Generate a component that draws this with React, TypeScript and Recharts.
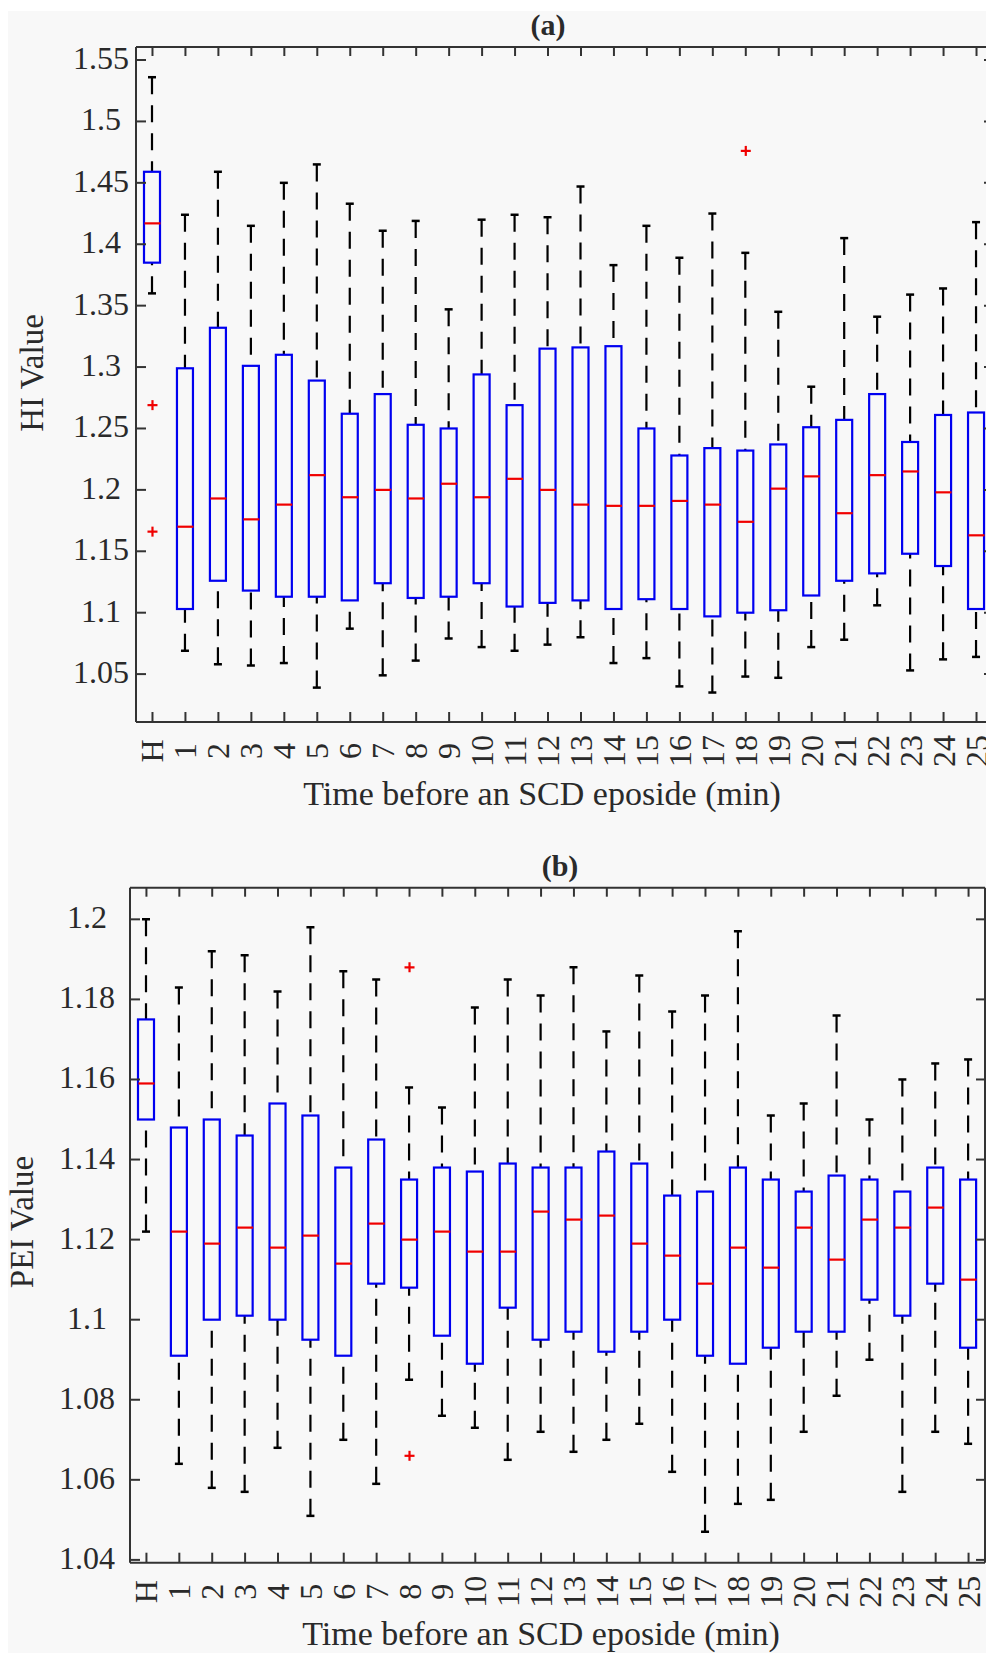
import { Bar, ComposedChart, Scatter, XAxis, YAxis } from "recharts"

const categories = ["H", "1", "2", "3", "4", "5", "6", "7", "8", "9", "10", "11", "12", "13", "14", "15", "16", "17", "18", "19", "20", "21", "22", "23", "24", "25"]

// (a) HI values
const hiLow = [1.36, 1.069, 1.058, 1.057, 1.059, 1.039, 1.087, 1.049, 1.061, 1.079, 1.072, 1.069, 1.074, 1.08, 1.059, 1.063, 1.04, 1.035, 1.048, 1.047, 1.072, 1.078, 1.106, 1.053, 1.062, 1.064]
const hiQ1 = [1.385, 1.103, 1.126, 1.118, 1.113, 1.113, 1.11, 1.124, 1.112, 1.113, 1.124, 1.105, 1.108, 1.11, 1.103, 1.111, 1.103, 1.097, 1.1, 1.102, 1.114, 1.126, 1.132, 1.148, 1.138, 1.103]
const hiMed = [1.417, 1.17, 1.193, 1.176, 1.188, 1.212, 1.194, 1.2, 1.193, 1.205, 1.194, 1.209, 1.2, 1.188, 1.187, 1.187, 1.191, 1.188, 1.174, 1.201, 1.211, 1.181, 1.212, 1.215, 1.198, 1.163]
const hiQ3 = [1.459, 1.299, 1.332, 1.301, 1.31, 1.289, 1.262, 1.278, 1.253, 1.25, 1.294, 1.269, 1.315, 1.316, 1.317, 1.25, 1.228, 1.234, 1.232, 1.237, 1.251, 1.257, 1.278, 1.239, 1.261, 1.263]
const hiHigh = [1.536, 1.424, 1.459, 1.415, 1.45, 1.465, 1.433, 1.411, 1.419, 1.347, 1.42, 1.424, 1.422, 1.447, 1.383, 1.415, 1.389, 1.425, 1.393, 1.345, 1.284, 1.405, 1.341, 1.359, 1.364, 1.418]
const hiOutliers = [
    { idx: 0, v: 1.269 },
    { idx: 0, v: 1.166 },
    { idx: 18, v: 1.476 },
]
const hiTicks = [1.05, 1.1, 1.15, 1.2, 1.25, 1.3, 1.35, 1.4, 1.45, 1.5, 1.55]

// (b) PEI values
const peiLow = [1.122, 1.064, 1.058, 1.057, 1.068, 1.051, 1.07, 1.059, 1.085, 1.076, 1.073, 1.065, 1.072, 1.067, 1.07, 1.074, 1.062, 1.047, 1.054, 1.055, 1.072, 1.081, 1.09, 1.057, 1.072, 1.069]
const peiQ1 = [1.15, 1.091, 1.1, 1.101, 1.1, 1.095, 1.091, 1.109, 1.108, 1.096, 1.089, 1.103, 1.095, 1.097, 1.092, 1.097, 1.1, 1.091, 1.089, 1.093, 1.097, 1.097, 1.105, 1.101, 1.109, 1.093]
const peiMed = [1.159, 1.122, 1.119, 1.123, 1.118, 1.121, 1.114, 1.124, 1.12, 1.122, 1.117, 1.117, 1.127, 1.125, 1.126, 1.119, 1.116, 1.109, 1.118, 1.113, 1.123, 1.115, 1.125, 1.123, 1.128, 1.11]
const peiQ3 = [1.175, 1.148, 1.15, 1.146, 1.154, 1.151, 1.138, 1.145, 1.135, 1.138, 1.137, 1.139, 1.138, 1.138, 1.142, 1.139, 1.131, 1.132, 1.138, 1.135, 1.132, 1.136, 1.135, 1.132, 1.138, 1.135]
const peiHigh = [1.2, 1.183, 1.192, 1.191, 1.182, 1.198, 1.187, 1.185, 1.158, 1.153, 1.178, 1.185, 1.181, 1.188, 1.172, 1.186, 1.177, 1.181, 1.197, 1.151, 1.154, 1.176, 1.15, 1.16, 1.164, 1.165]
const peiOutliers = [
    { idx: 8, v: 1.188 },
    { idx: 8, v: 1.066 },
]
const peiTicks = [1.04, 1.06, 1.08, 1.1, 1.12, 1.14, 1.16, 1.18, 1.2]

const xTicks = categories.map((_, i) => i)

const AXIS = "#333"
const TXT = "#2a2a2a"
const FONT = '"Liberation Serif", "Times New Roman", serif'

function buildRows(lo: number[], q1: number[], med: number[], q3: number[], hi: number[]) {
    return categories.map((c, i) => ({
        idx: i,
        label: c,
        upper: [q3[i], hi[i]],
        lower: [lo[i], q1[i]],
        box: [q1[i], q3[i]],
        med: med[i],
    }))
}

const hiRows = buildRows(hiLow, hiQ1, hiMed, hiQ3, hiHigh)
const peiRows = buildRows(peiLow, peiQ1, peiMed, peiQ3, peiHigh)

const fmt = (v: number) => String(Number(v.toFixed(2)))

function UpperWhisker(props: any) {
    const { x, y, width, height } = props
    const cx = x + width / 2
    const top = Math.min(y, y + height)
    const bot = Math.max(y, y + height)
    return (
        <g>
            <line x1={cx} x2={cx} y1={top} y2={bot} stroke="#000" strokeWidth={2.2} strokeDasharray="17 11" />
            <line x1={cx - 4} x2={cx + 4} y1={top} y2={top} stroke="#000" strokeWidth={2.5} />
        </g>
    )
}

function LowerWhisker(props: any) {
    const { x, y, width, height } = props
    const cx = x + width / 2
    const top = Math.min(y, y + height)
    const bot = Math.max(y, y + height)
    return (
        <g>
            <line x1={cx} x2={cx} y1={bot} y2={top} stroke="#000" strokeWidth={2.2} strokeDasharray="17 11" />
            <line x1={cx - 4} x2={cx + 4} y1={bot} y2={bot} stroke="#000" strokeWidth={2.5} />
        </g>
    )
}

function BoxShape(props: any) {
    const { x, y, width, height } = props
    return (
        <rect
            x={x}
            y={Math.min(y, y + height)}
            width={width}
            height={Math.abs(height)}
            fill="none"
            stroke="#0000f0"
            strokeWidth={2.2}
        />
    )
}

function MedianShape(props: any) {
    const { cx, cy } = props
    return <line x1={cx - 8} x2={cx + 8} y1={cy} y2={cy} stroke="#f00000" strokeWidth={2.2} />
}

function PlusShape(props: any) {
    const { cx, cy } = props
    return (
        <g stroke="#f00000" strokeWidth={2.2}>
            <line x1={cx - 5} x2={cx + 5} y1={cy} y2={cy} />
            <line x1={cx} x2={cx} y1={cy - 5} y2={cy + 5} />
        </g>
    )
}

function BottomTick(props: any) {
    const { x, y, payload } = props
    return (
        <g>
            <line x1={x} x2={x} y1={y} y2={y - 10} stroke={AXIS} strokeWidth={2} />
            <text
                transform={`translate(${x + 11},${y + 29}) rotate(-90)`}
                textAnchor="middle"
                fontSize={32}
                fill={TXT}
                fontFamily={FONT}
            >
                {categories[payload.value]}
            </text>
        </g>
    )
}

function TopTick(props: any) {
    const { x, y } = props
    return <line x1={x} x2={x} y1={y} y2={y + 9} stroke={AXIS} strokeWidth={2} />
}

function RightTick(props: any) {
    const { x, y } = props
    return <line x1={x} x2={x - 9} y1={y} y2={y} stroke={AXIS} strokeWidth={2} />
}

function makeLeftTick(labelCenter: number) {
    return (props: any) => {
        const { x, y, payload } = props
        return (
            <g>
                <line x1={x} x2={x + 10} y1={y} y2={y} stroke={AXIS} strokeWidth={2} />
                <text x={x - labelCenter} y={y + 9} textAnchor="middle" fontSize={32} fill={TXT} fontFamily={FONT}>
                    {fmt(payload.value)}
                </text>
            </g>
        )
    }
}

interface PanelProps {
    rows: ReturnType<typeof buildRows>
    outliers: { idx: number; v: number }[]
    domain: [number, number]
    ticks: number[]
    height: number
    margin: { top: number; right: number; bottom: number; left: number }
    labelCenter: number
}

function BoxPanel({ rows, outliers, domain, ticks, height, margin, labelCenter }: PanelProps) {
    const xDomain: [number, number] = [-0.5, 25.5]
    return (
        <ComposedChart width={1000} height={height} data={rows} margin={margin} barSize={16}>
            <XAxis
                dataKey="idx"
                type="number"
                domain={xDomain}
                ticks={xTicks}
                interval={0}
                height={60}
                tickSize={0}
                tickMargin={0}
                tickLine={false}
                axisLine={{ stroke: AXIS, strokeWidth: 2 }}
                tick={<BottomTick />}
                allowDataOverflow
            />
            <XAxis
                xAxisId="top"
                orientation="top"
                dataKey="idx"
                type="number"
                domain={xDomain}
                ticks={xTicks}
                interval={0}
                height={5}
                tickSize={0}
                tickMargin={0}
                tickLine={false}
                axisLine={{ stroke: AXIS, strokeWidth: 2 }}
                tick={<TopTick />}
                allowDataOverflow
            />
            <XAxis xAxisId="up" dataKey="idx" type="number" domain={xDomain} hide allowDataOverflow />
            <XAxis xAxisId="lo" dataKey="idx" type="number" domain={xDomain} hide allowDataOverflow />
            <XAxis xAxisId="box" dataKey="idx" type="number" domain={xDomain} hide allowDataOverflow />
            <YAxis
                type="number"
                domain={domain}
                ticks={ticks}
                interval={0}
                width={60}
                tickSize={0}
                tickMargin={0}
                tickLine={false}
                axisLine={{ stroke: AXIS, strokeWidth: 2 }}
                tick={makeLeftTick(labelCenter)}
                allowDataOverflow
            />
            <YAxis
                yAxisId="r"
                orientation="right"
                type="number"
                domain={domain}
                ticks={ticks}
                interval={0}
                width={5}
                tickSize={0}
                tickMargin={0}
                tickLine={false}
                axisLine={{ stroke: AXIS, strokeWidth: 2 }}
                tick={<RightTick />}
                allowDataOverflow
            />
            <Bar xAxisId="up" dataKey="upper" shape={<UpperWhisker />} isAnimationActive={false} />
            <Bar xAxisId="lo" dataKey="lower" shape={<LowerWhisker />} isAnimationActive={false} />
            <Bar xAxisId="box" dataKey="box" shape={<BoxShape />} isAnimationActive={false} />
            <Scatter dataKey="med" shape={<MedianShape />} isAnimationActive={false} />
            <Scatter data={outliers} dataKey="v" shape={<PlusShape />} isAnimationActive={false} />
        </ComposedChart>
    )
}

export default function App() {
    return (
        <div
            style={{
                position: "absolute",
                left: 0,
                top: 0,
                width: 986,
                height: 1653,
                overflow: "hidden",
                background: "#fff",
            }}
        >
            <div style={{ position: "absolute", left: 8, top: 11, right: 0, bottom: 0, background: "#f8f8f8" }} />
            <div style={{ position: "absolute", left: 0, top: 0 }}>
                <BoxPanel
                    rows={hiRows}
                    outliers={hiOutliers}
                    domain={[1.011, 1.5606]}
                    ticks={hiTicks}
                    height={830}
                    margin={{ top: 42, right: 2, bottom: 48, left: 76 }}
                    labelCenter={35}
                />
            </div>
            <div style={{ position: "absolute", left: 0, top: 840 }}>
                <BoxPanel
                    rows={peiRows}
                    outliers={peiOutliers}
                    domain={[1.0393, 1.2079]}
                    ticks={peiTicks}
                    height={813}
                    margin={{ top: 42.7, right: 10, bottom: 30.3, left: 70 }}
                    labelCenter={43}
                />
            </div>
            <svg
                width={986}
                height={1653}
                style={{ position: "absolute", left: 0, top: 0, pointerEvents: "none" }}
                fontFamily={FONT}
                fill={TXT}
            >
                <text x={548} y={35} textAnchor="middle" fontSize={30} fontWeight="bold">
                    (a)
                </text>
                <text x={542} y={805} textAnchor="middle" fontSize={34}>
                    Time before an SCD eposide (min)
                </text>
                <text transform="translate(43,373) rotate(-90)" textAnchor="middle" fontSize={33}>
                    HI Value
                </text>
                <text x={560} y={876} textAnchor="middle" fontSize={30} fontWeight="bold">
                    (b)
                </text>
                <text x={541} y={1645} textAnchor="middle" fontSize={34}>
                    Time before an SCD eposide (min)
                </text>
                <text transform="translate(33,1222) rotate(-90)" textAnchor="middle" fontSize={33}>
                    PEI Value
                </text>
            </svg>
        </div>
    )
}
